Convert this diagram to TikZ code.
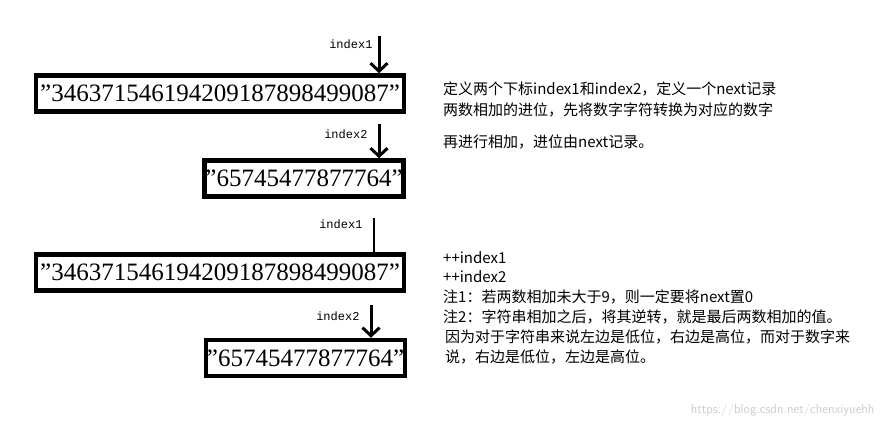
\documentclass[tikz,border=0pt]{standalone}
\usepackage{fontspec}
\setmainfont{Liberation Serif}
\newfontfamily\cjk{Noto Sans CJK SC}
\newfontfamily\monofont{Liberation Mono}
\usetikzlibrary{arrows.meta}

\begin{document}
\begin{tikzpicture}[x=1pt,y=-1pt,
  numbox/.style={draw,line width=4.5pt,inner sep=1pt,minimum height=36pt,font=\fontsize{25}{25}\selectfont},
  ptr/.style={line width=3pt,-{Straight Barb[length=8pt,width=17pt,line width=3pt]}},
  lbl/.style={font=\monofont\fontsize{12}{12}\selectfont,anchor=east},
  note/.style={font=\cjk\fontsize{15}{15}\selectfont,anchor=west,inner sep=0pt}]
\useasboundingbox (0,0) rectangle (887,430);

% upper pair
\node[numbox,minimum width=368pt] (n1) at (220,93.5) {"346371546194209187898499087"};
\node[numbox,minimum width=196pt] (n2) at (304,178.5) {"65745477877764"};
\coordinate (p1) at (379,36);
\coordinate (p2) at (379,124);
\draw[ptr] (p1) -- (n1.north -| p1);
\draw[ptr] (p2) -- (n2.north -| p2);
\node[lbl] at (376,44) {index1};
\node[lbl] at (371,134) {index2};

% lower pair
\node[numbox,minimum width=368pt] (n3) at (220,272.5) {"346371546194209187898499087"};
\node[numbox,minimum width=193pt] (n4) at (305.5,358) {"65745477877764"};
\coordinate (p3) at (374,218);
\coordinate (p4) at (371,305);
\draw[line width=2.5pt] (p3) -- (n3.north -| p3);
\draw[ptr] (p4) -- (n4.north -| p4);
\node[lbl] at (366,224) {index1};
\node[lbl] at (363,316) {index2};

% notes
\node[note] at (443,89) {定义两个下标index1和index2，定义一个next记录};
\node[note] at (443,110) {两数相加的进位，先将数字字符转换为对应的数字};
\node[note] at (443,142) {再进行相加，进位由next记录。};
\node[note] at (443,258) {++index1};
\node[note] at (443,277) {++index2};
\node[note] at (443,297) {注1：若两数相加未大于9，则一定要将next置0};
\node[note] at (443,317) {注2：字符串相加之后，将其逆转，就是最后两数相加的值。};
\node[note] at (445,337) {因为对于字符串来说左边是低位，右边是高位，而对于数字来};
\node[note] at (445,357) {说，右边是低位，左边是高位。};
\node[font=\sffamily\fontsize{13}{13}\selectfont,text=gray!40,anchor=east] at (878,410) {https://blog.csdn.net/chenxiyuehh};
\end{tikzpicture}
\end{document}
